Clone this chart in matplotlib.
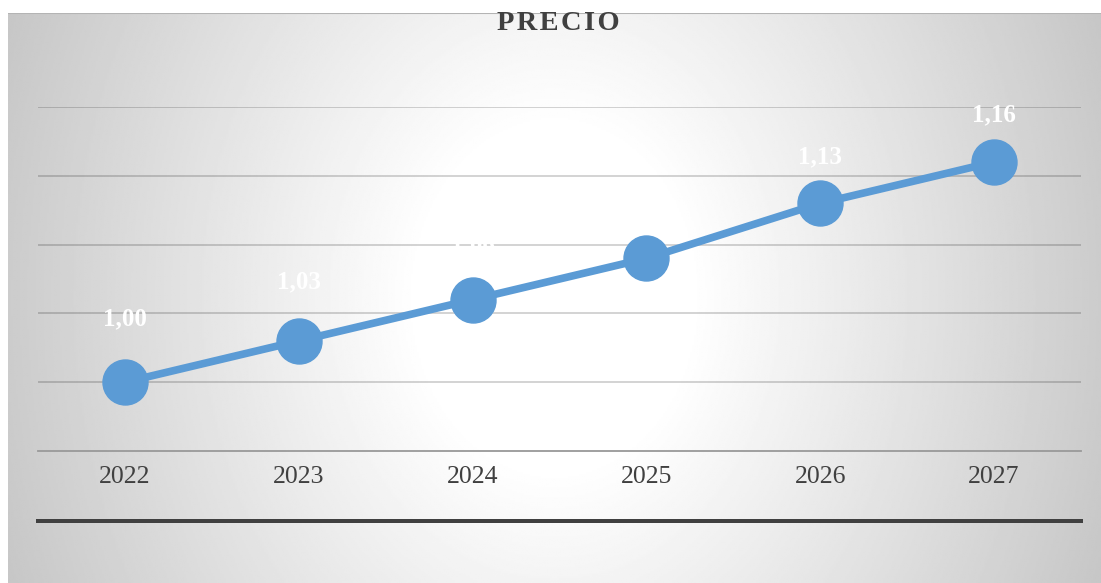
import numpy as np
import matplotlib.pyplot as plt

years = ["2022", "2023", "2024", "2025", "2026", "2027"]
precio = [1.00, 1.03, 1.06, 1.09, 1.13, 1.16]
labels = ["1,00", "1,03", "1,06", "1,09", "1,13", "1,16"]

W, H, DPI = 1101, 583, 100
PX = 72 / DPI  # points per pixel
fig = plt.figure(figsize=(W / DPI, H / DPI), dpi=DPI)
fig.patch.set_facecolor("white")

# shaded chart area (radial gradient, white centre to grey edges)
bg = fig.add_axes([8 / W, 0, 1 - 8 / W, 1 - 13 / H], zorder=0)
yy, xx = np.mgrid[0:1:300j, 0:1:600j]
r = np.sqrt(((xx - 0.5) / 0.5) ** 2 + ((yy - 0.5) / 1.2) ** 2)
shade = np.clip(1.0 - 0.2 * np.clip((r - 0.25) / 0.75, 0, None), 0.76, 1.0)
bg.imshow(shade, cmap="gray", vmin=0, vmax=1, aspect="auto",
          extent=[0, 1, 0, 1], origin="upper")
bg.plot([0, 1], [1, 1], color="#b4b4b4", lw=1.5)
bg.set_xlim(0, 1)
bg.set_ylim(0, 1)
bg.axis("off")

# plot area
ax = fig.add_axes([38 / W, (H - 451) / H, (1081 - 38) / W, (451 - 107) / H], zorder=1)
ax.patch.set_alpha(0)
x = np.arange(len(years))
ax.plot(x, precio, color="#5b9bd5", lw=5.5, marker="o", markersize=45 * PX,
        zorder=3)

# label offsets above each point, in pixels
lab_off = [63, 59, 55, 53, 47, 47]
for xi, yi, lab, off in zip(x, precio, labels, lab_off):
    ax.annotate(lab, (xi, yi), xytext=(0, off * PX), textcoords="offset points",
                ha="center", va="center", color="white", fontsize=18,
                fontweight="bold", family="Liberation Serif", zorder=4)

ax.set_xlim(-0.5, len(years) - 0.5)
ax.set_ylim(0.95, 1.20)
ax.set_yticks([1.00, 1.05, 1.10, 1.15, 1.20])
ax.yaxis.grid(True, color="black", alpha=0.2, lw=1.2)
ax.set_axisbelow(True)
ax.tick_params(left=False, labelleft=False, bottom=False)
ax.set_xticks(x)
ax.set_xticklabels(years, family="Liberation Serif", fontsize=18.5, color="#404040")
ax.tick_params(axis="x", pad=7)
for s in ["top", "right", "left"]:
    ax.spines[s].set_visible(False)
ax.spines["bottom"].set_color("#999999")
ax.spines["bottom"].set_linewidth(1.3)

# heavy rule beneath the category labels
fig.add_artist(plt.Line2D([38 / W, 1081 / W], [1 - 521 / H, 1 - 521 / H],
                          color="#404040", lw=4 * PX, zorder=2))

fig.text(558 / W, 1 - 24 / H, "\u200a".join("PRECIO"), ha="center", va="center",
         family="Liberation Serif", fontweight="bold", fontsize=20.5, color="#404040")

fig.savefig("out.png", dpi=DPI)
